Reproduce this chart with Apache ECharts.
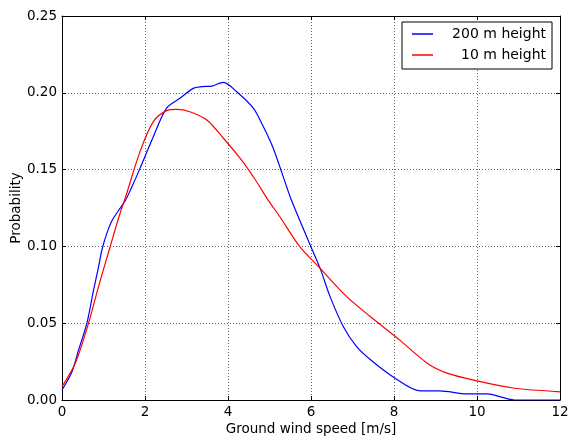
<!DOCTYPE html>
<html>
<head>
<meta charset="utf-8">
<script src="https://cdn.jsdelivr.net/npm/echarts@6/dist/echarts.min.js"></script>
<style>html,body{margin:0;padding:0;background:#fff}#c{width:568px;height:437px}</style>
</head>
<body>
<div id="c"></div>
<script>
var xTicks = [0, 2, 4, 6, 8, 10, 12];
var yTicks = [0.00, 0.05, 0.10, 0.15, 0.20, 0.25];
var seriesNames = ['200 m height', '10 m height'];
var blueX = [0, 0.24, 0.40, 0.60, 0.76, 0.88, 0.96, 1.08, 1.2, 1.37, 1.53, 1.65, 1.88, 2.2, 2.52, 2.84, 3.16, 3.37, 3.61, 3.89, 4.21, 4.61, 4.85, 5.09, 5.33, 5.53, 5.98, 6.22, 6.46, 6.78, 7.1, 7.42, 7.98, 8.63, 9.1, 9.76, 10.24, 10.9, 11.4, 12];
var blueY = [0.0065, 0.0184, 0.0326, 0.050, 0.0716, 0.0865, 0.0975, 0.1085, 0.1165, 0.1237, 0.130, 0.1367, 0.1508, 0.1714, 0.190, 0.1964, 0.2029, 0.204, 0.2044, 0.2068, 0.2007, 0.190, 0.178, 0.1639, 0.1454, 0.130, 0.1009, 0.0857, 0.0673, 0.0477, 0.0347, 0.0265, 0.015, 0.006, 0.006, 0.004, 0.004, 0.0, 0.0, 0.0];
var redX = [0, 0.32, 0.64, 0.88, 1.16, 1.37, 1.53, 1.88, 2.2, 2.52, 2.76, 3.08, 3.49, 3.89, 4.29, 4.65, 4.97, 5.25, 5.73, 6.22, 6.86, 7.42, 8.14, 8.8, 9.28, 10, 10.87, 12];
var redY = [0.0087, 0.0239, 0.050, 0.0738, 0.0998, 0.119, 0.132, 0.1617, 0.1812, 0.1884, 0.1892, 0.1877, 0.1823, 0.1704, 0.1574, 0.1437, 0.130, 0.1193, 0.0998, 0.0857, 0.0673, 0.0545, 0.039, 0.024, 0.0175, 0.0124, 0.0078, 0.0053];

function zip(a, b) { return a.map(function (v, i) { return [v, b[i]]; }); }
var FONT = 'DejaVu Sans';
var FS = 13.5;
var chart = echarts.init(document.getElementById('c'), null, {renderer: 'canvas'});
var common = {
  axisLine: {show: true, onZero: false, lineStyle: {color: '#000', width: 1}},
  axisTick: {show: true, inside: true, length: 4, lineStyle: {color: '#000'}},
};
chart.setOption({
  animation: false,
  backgroundColor: '#fff',
  textStyle: {fontFamily: FONT},
  grid: {left: 62, right: 8, top: 16, bottom: 37, containLabel: false, outerBoundsMode: 'none'},
  legend: {
    left: 402, top: 22, orient: 'vertical',
    backgroundColor: '#fff', borderColor: '#000', borderWidth: 1, borderRadius: 0,
    padding: [5, 6, 7, 10], itemGap: 7, itemWidth: 21, itemHeight: 1.5,
    icon: 'rect',
    data: seriesNames,
    formatter: function (n) { return '{a|' + n + '}'; },
    textStyle: {fontFamily: FONT, fontSize: 14, color: '#000',
      rich: {a: {width: 108, align: 'right', fontFamily: FONT, fontSize: 14, lineHeight: 14, color: '#000'}}}
  },
  xAxis: [
    Object.assign({type: 'value', min: xTicks[0], max: xTicks[xTicks.length - 1], interval: 2, position: 'bottom',
      name: 'Ground wind speed [m/s]', nameLocation: 'middle', nameGap: 22, nameMoveOverlap: false,
      nameTextStyle: {fontFamily: FONT, fontSize: FS, color: '#000'},
      axisLabel: {fontFamily: FONT, fontSize: FS, color: '#000', margin: 5},
      splitLine: {show: true, lineStyle: {color: '#666', type: [1, 2], width: 1}}}, common),
    Object.assign({type: 'value', min: xTicks[0], max: xTicks[xTicks.length - 1], interval: 2, position: 'top',
      axisLabel: {show: false}, splitLine: {show: false}}, common)
  ],
  yAxis: [
    Object.assign({type: 'value', min: yTicks[0], max: yTicks[yTicks.length - 1], interval: 0.05, position: 'left',
      name: 'Probability', nameLocation: 'middle', nameGap: 39, nameMoveOverlap: false,
      nameTextStyle: {fontFamily: FONT, fontSize: FS, color: '#000'},
      axisLabel: {fontFamily: FONT, fontSize: FS, color: '#000', margin: 5, formatter: function (v) { return v.toFixed(2); }},
      splitLine: {show: true, lineStyle: {color: '#666', type: [1, 2], width: 1}}}, common),
    Object.assign({type: 'value', min: yTicks[0], max: yTicks[yTicks.length - 1], interval: 0.05, position: 'right',
      axisLabel: {show: false}, splitLine: {show: false}}, common)
  ],
  series: [
    {name: seriesNames[0], type: 'line', data: zip(blueX, blueY), smooth: 0.3,
      showSymbol: false, symbol: 'none', color: '#0000ff', lineStyle: {color: '#0000ff', width: 1.2}},
    {name: seriesNames[1], type: 'line', data: zip(redX, redY), smooth: 0.3,
      showSymbol: false, symbol: 'none', color: '#ff0000', lineStyle: {color: '#ff0000', width: 1.2}}
  ]
});
</script>
</body>
</html>
